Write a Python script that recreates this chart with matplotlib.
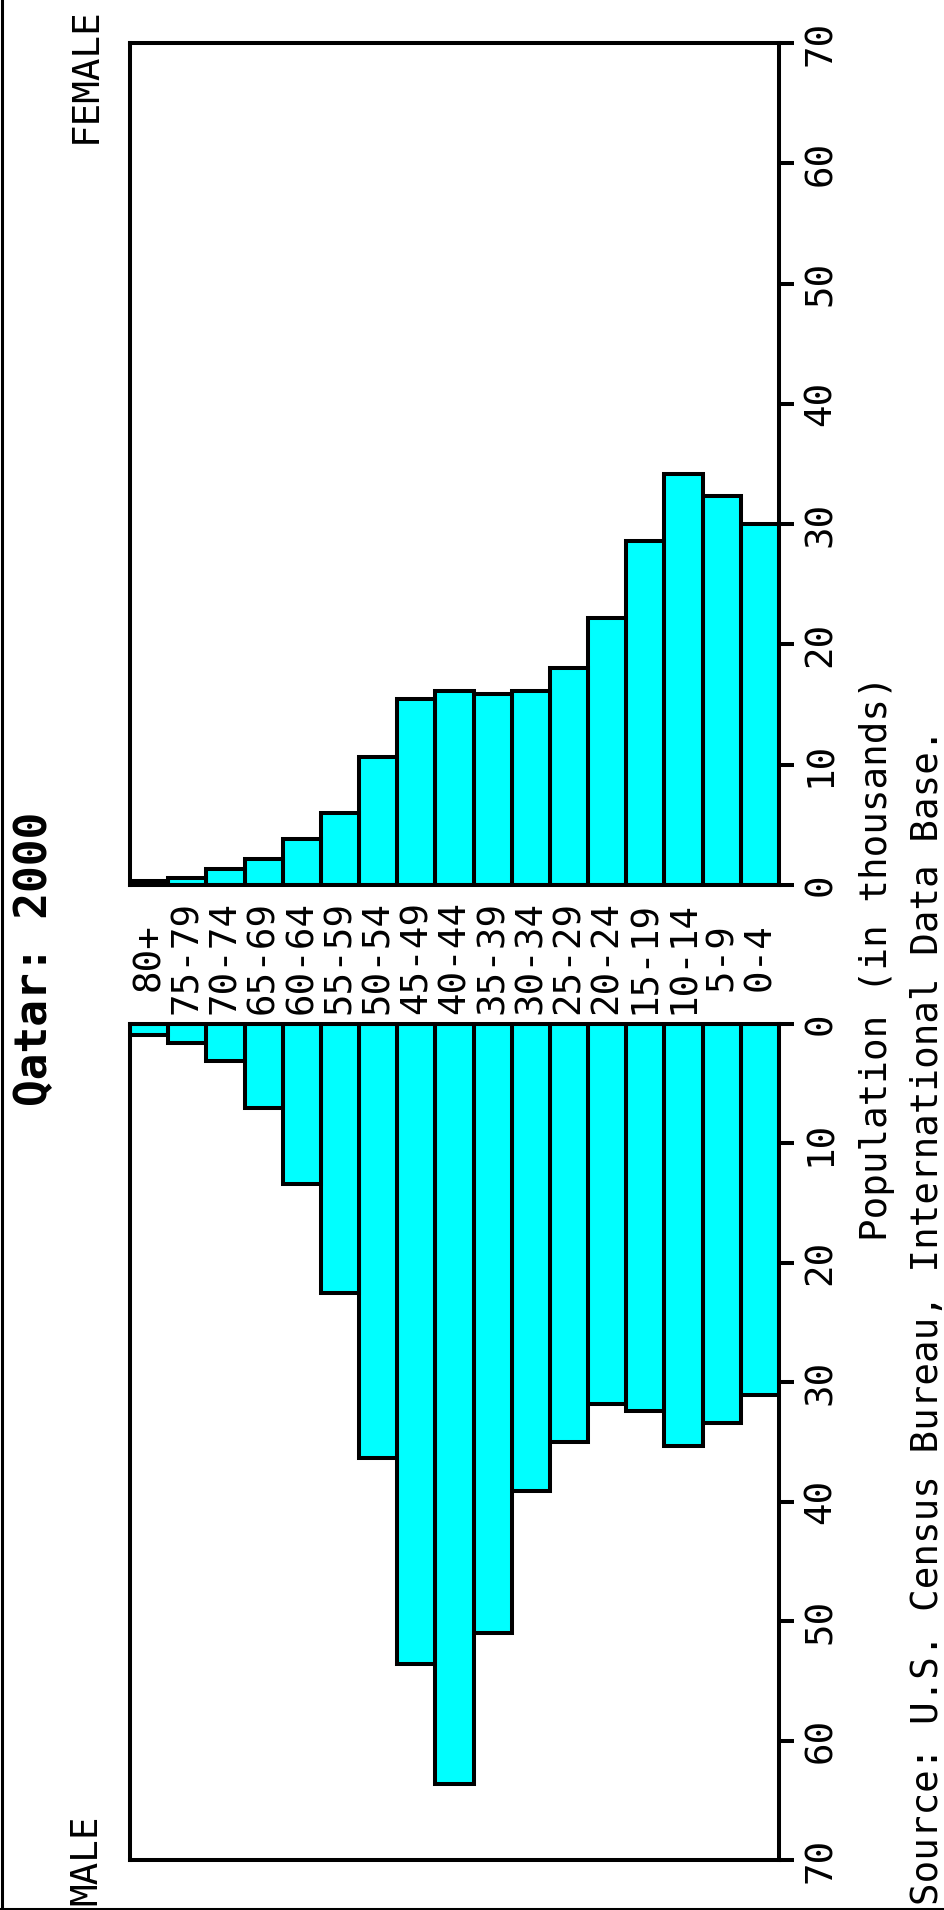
import matplotlib
matplotlib.use("Agg")
import matplotlib.pyplot as plt
import numpy as np
from matplotlib import transforms
from matplotlib.lines import Line2D

# Qatar 2000 population by five-year age group (thousands)
age_groups = ["0-4", "5-9", "10-14", "15-19", "20-24", "25-29", "30-34",
              "35-39", "40-44", "45-49", "50-54", "55-59", "60-64",
              "65-69", "70-74", "75-79", "80+"]
male = [31.1, 33.4, 35.3, 32.4, 31.8, 35.0, 39.1, 51.0, 63.6, 53.6,
        36.3, 22.5, 13.4, 7.0, 3.1, 1.6, 0.9]
female = [30.0, 32.3, 34.2, 28.6, 22.2, 18.0, 16.1, 15.9, 16.1, 15.5,
          10.6, 6.0, 3.8, 2.2, 1.3, 0.6, 0.3]
tick_values = [0, 10, 20, 30, 40, 50, 60, 70]

title = "Qatar: 2000"
xlabel = "Population (in thousands)"
source = "Source: U.S. Census Bureau, International Data Base."

W, H = 944, 1910
MONO = "DejaVu Sans Mono"
FS = 27
LW = 2.9
BAR_COLOR = "#00ffff"

fig = plt.figure(figsize=(W / 100, H / 100), dpi=100)
fig.patch.set_facecolor("white")


def fy(px):
    return 1 - px / H


# Female panel sits above the age labels, male panel below (bars grow away from the gap)
ax_f = fig.add_axes([130 / W, fy(885), (779 - 130) / W, (885 - 43) / H])
ax_m = fig.add_axes([130 / W, fy(1860), (779 - 130) / W, (1860 - 1024) / H])

x = np.arange(len(age_groups))
for ax, vals in ((ax_f, female), (ax_m, male)):
    ax.bar(x, vals, width=1.0, color=BAR_COLOR, edgecolor="black",
           linewidth=LW)
    ax.set_xlim(len(age_groups) - 0.5, -0.5)
    ax.set_xticks([])
    ax.yaxis.tick_right()
    ax.set_yticks(tick_values)
    ax.set_yticklabels([str(v) for v in tick_values], rotation=90,
                       va="center", family=MONO, fontsize=FS)
    ax.tick_params(axis="y", direction="out", length=10.8, width=LW,
                   pad=6.5, colors="black")
    for s in ax.spines.values():
        s.set_linewidth(LW)
        s.set_color("black")

ax_f.set_ylim(0, 70)
ax_m.set_ylim(70, 0)

# Age group labels centred in the gap between the two panels
trans = transforms.blended_transform_factory(ax_m.transData, fig.transFigure)
for xi, lab in zip(x, age_groups):
    fig.text(xi, fy(957), lab, transform=trans, rotation=90,
             ha="center", va="center", family=MONO, fontsize=FS)

fig.text(35 / W, fy(959), title, rotation=90, ha="center", va="center",
         family=MONO, fontsize=32, fontweight="bold")
fig.text(86 / W, fy(7), "FEMALE", rotation=90, ha="center", va="top",
         family=MONO, fontsize=FS)
fig.text(86 / W, fy(1905), "MALE", rotation=90, ha="center", va="bottom",
         family=MONO, fontsize=FS)
fig.text(877 / W, fy(958), xlabel, rotation=90, ha="center", va="center",
         family=MONO, fontsize=FS)
fig.text(928 / W, fy(1905), source, rotation=90, ha="center", va="bottom",
         family=MONO, fontsize=FS)

# Outer frame lines along the left and bottom edges
fig.add_artist(Line2D([1.5 / W, 1.5 / W], [0, 1], transform=fig.transFigure,
                      color="black", lw=2.2))
fig.add_artist(Line2D([0, 1], [fy(1908.5), fy(1908.5)],
                      transform=fig.transFigure, color="black", lw=2.2))

fig.savefig("out.png", dpi=100, facecolor="white")
